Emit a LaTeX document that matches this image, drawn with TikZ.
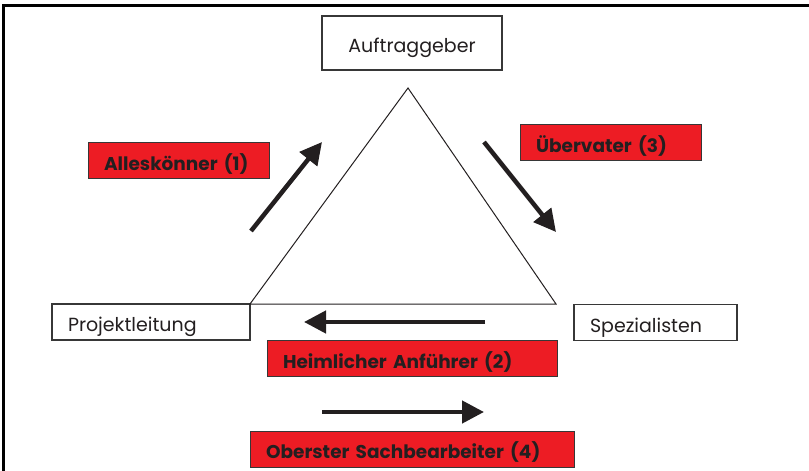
\documentclass[tikz,border=0pt]{standalone}
\usepackage{fontspec}
\setmainfont{Poppins}
\usepackage{tikz}
\usetikzlibrary{arrows.meta}

\definecolor{tagred}{RGB}{237,28,36}
\definecolor{ink}{RGB}{35,31,32}
\definecolor{rim}{RGB}{55,55,55}

\tikzset{
    role/.style={draw=rim, line width=1.2pt, fill=white, anchor=west, align=left,
        inner xsep=16pt, inner ysep=0pt, minimum height=36pt, outer sep=0pt,
        text height=19pt, text depth=0pt, text=ink, font=\fontsize{19}{21}\selectfont},
    tag/.style={role, line width=1pt, fill=tagred, font=\fontsize{18.5}{21}\selectfont\bfseries},
    bigarrow/.style={line width=4.5pt, draw=ink, -{Triangle[length=22pt,width=22pt]}}
}

\begin{document}
\begin{tikzpicture}[x=1pt,y=-1pt]
    \useasboundingbox (0,0) rectangle (809,471);
    \draw[line width=2.5pt] (3.5,471) |- (809,5.5);

    \node[role,align=center,text width=148pt,minimum height=54pt] (auf) at (322,43) {Auftraggeber};
    \node[role,text width=166pt] (proj) at (52,322) {Projektleitung};
    \node[role,text width=131pt] (spez) at (574,322.5) {Spezialisten};

    \node[tag,text width=149pt] (t1) at (88,160.5) {Alleskönner (1)};
    \node[tag,text width=149pt] (t3) at (520,142.5) {Übervater (3)};
    \node[tag,text width=258pt] (t2) at (267,358.5) {Heimlicher Anführer (2)};
    \node[tag,text width=292pt] (t4) at (250,449) {Oberster Sachbearbeiter (4)};

    \coordinate (top) at (408,88);
    \coordinate (right) at (556,304);
    \draw[line width=1pt,ink] (proj.north east) -- (top) -- (right) -- cycle;

    \coordinate (a1s) at (251,231);
    \coordinate (a1e) at (322,142);
    \coordinate (a3s) at (484,142);
    \coordinate (a3e) at (556,232);
    \coordinate (a2s) at (485,322);
    \coordinate (a2e) at (304,322);
    \coordinate (a4s) at (322,412);
    \coordinate (a4e) at (484,412);
    \draw [bigarrow] (a1s) -- (a1e);
    \draw [bigarrow] (a3s) -- (a3e);
    \draw [bigarrow] (a2s) -- (a2e);
    \draw [bigarrow] (a4s) -- (a4e);
\end{tikzpicture}
\end{document}
